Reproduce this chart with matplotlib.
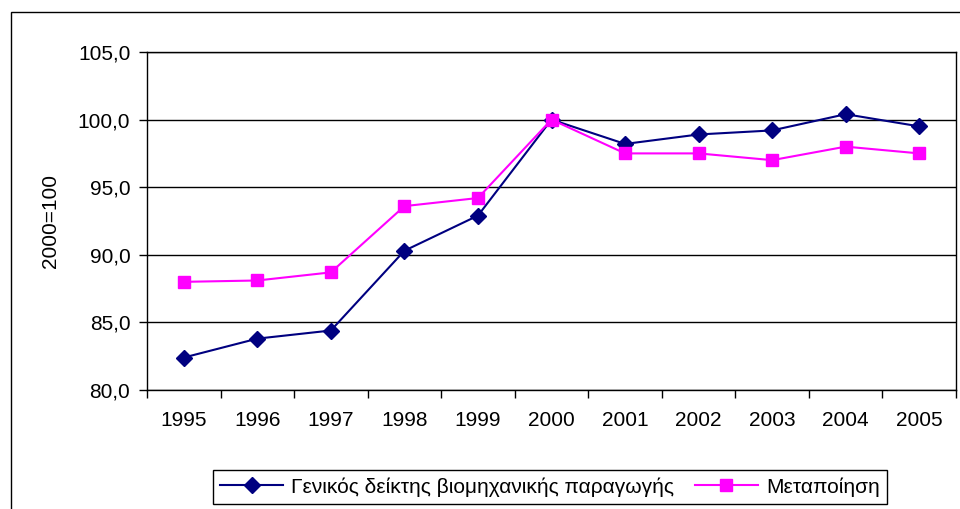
import matplotlib
matplotlib.use("Agg")
import matplotlib.pyplot as plt
from matplotlib.patches import Rectangle
from matplotlib.ticker import FuncFormatter

plt.rcParams['font.family'] = ['Liberation Sans', 'DejaVu Sans']

# dades llegides del grafic
years = ['1995', '1996', '1997', '1998', '1999', '2000', '2001', '2002', '2003', '2004', '2005']
genikos = [82.4, 83.8, 84.4, 90.3, 92.9, 100.0, 98.2, 98.9, 99.2, 100.4, 99.5]
metapoiisi = [88.0, 88.1, 88.7, 93.6, 94.2, 100.0, 97.5, 97.5, 97.0, 98.0, 97.5]
label1 = "Γενικός δείκτης βιομηχανικής παραγωγής"
label2 = "Μεταποίηση"

fig = plt.figure(figsize=(9.6, 5.09), dpi=100)
ax = fig.add_axes([147/960, 1 - 390/509, (956-147)/960, (390-52)/509])

x = list(range(len(years)))
ax.plot(x, genikos, color='#000080', marker='D', markersize=8, linewidth=1.5, label=label1)
ax.plot(x, metapoiisi, color='#FF00FF', marker='s', markersize=9, linewidth=1.5, label=label2)

ax.set_xlim(-0.5, len(years) - 0.5)
ax.set_ylim(80, 105)
ax.set_yticks([80, 85, 90, 95, 100, 105])
ax.yaxis.set_major_formatter(FuncFormatter(lambda v, p: ('%.1f' % v).replace('.', ',')))
ax.grid(axis='y', color='black', linewidth=1)
ax.set_axisbelow(True)

# etiquetes al centre, marques entre categories
ax.set_xticks(x)
ax.set_xticklabels(years)
ax.set_xticks([i - 0.5 for i in range(len(years) + 1)], minor=True)
ax.tick_params(axis='x', which='major', length=0, pad=15, labelsize=15)
ax.tick_params(axis='x', which='minor', length=6, width=1, direction='out')
ax.tick_params(axis='y', length=6, width=1, direction='out', labelsize=15, pad=6)
for s in ax.spines.values():
    s.set_color('black')
    s.set_linewidth(1)

ax.set_ylabel("2000=100", fontsize=15, labelpad=13)

leg = fig.legend(loc='center', bbox_to_anchor=(550/960, 1 - 487/509), ncol=2,
                 fancybox=False, edgecolor='black', fontsize=15, framealpha=1,
                 handlelength=3.0, columnspacing=1.0, borderpad=0.35, handletextpad=0.4)
leg.get_frame().set_linewidth(1)

# marc exterior del grafic
fig.patches.append(Rectangle((11/960, -0.1), 1.2, (1 - 12/509) + 0.1,
                             transform=fig.transFigure, fill=False,
                             edgecolor='black', linewidth=1))

fig.savefig('out.png', dpi=100)
